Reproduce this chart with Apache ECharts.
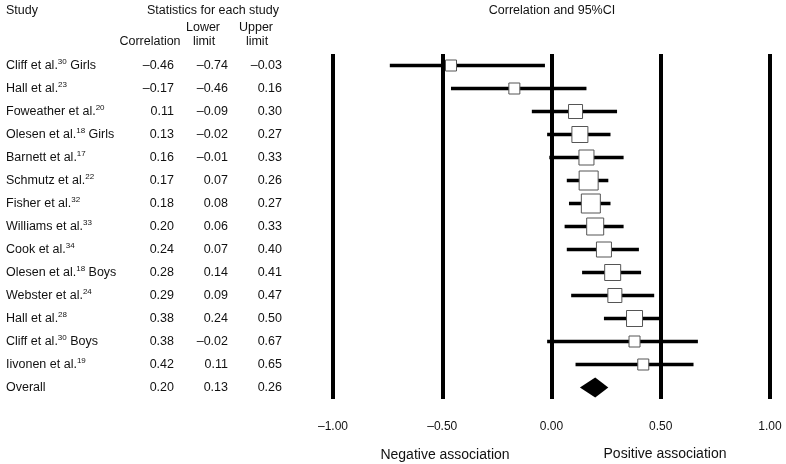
<!DOCTYPE html>
<html>
<head>
<meta charset="utf-8">
<script src="https://cdn.jsdelivr.net/npm/echarts@6/dist/echarts.min.js"></script>
<style>html,body{margin:0;padding:0;background:#fff}#c{width:786px;height:464px}</style>
</head>
<body>
<div id="c"></div>
<script>
// ---- data ----
var studyNames = ['Cliff et al.', 'Hall et al.', 'Foweather et al.', 'Olesen et al.', 'Barnett et al.', 'Schmutz et al.', 'Fisher et al.', 'Williams et al.', 'Cook et al.', 'Olesen et al.', 'Webster et al.', 'Hall et al.', 'Cliff et al.', 'Iivonen et al.', 'Overall'];
var studyRefs = ['30', '23', '20', '18', '17', '22', '32', '33', '34', '18', '24', '28', '30', '19', ''];
var studySuffix = [' Girls', '', '', ' Girls', '', '', '', '', '', ' Boys', '', '', ' Boys', '', ''];
var correlation = [-0.46, -0.17, 0.11, 0.13, 0.16, 0.17, 0.18, 0.20, 0.24, 0.28, 0.29, 0.38, 0.38, 0.42, 0.20];
var lowerLimit = [-0.74, -0.46, -0.09, -0.02, -0.01, 0.07, 0.08, 0.06, 0.07, 0.14, 0.09, 0.24, -0.02, 0.11, 0.13];
var upperLimit = [-0.03, 0.16, 0.30, 0.27, 0.33, 0.26, 0.27, 0.33, 0.40, 0.41, 0.47, 0.50, 0.67, 0.65, 0.26];
// relative weight of each study
var relWeight = [11, 11, 14, 16, 15, 19, 19, 17, 15, 16, 14, 16, 11, 11, 0];
var xTicks = [-1.00, -0.50, 0.00, 0.50, 1.00];

var FONT = '"Liberation Sans", Arial, sans-serif';
function fmt(v) { return v.toFixed(2).replace('-', '\u2013'); }
var overallIdx = studyNames.length - 1;

var studyLabels = studyNames.map(function (n, i) {
  var s = '{n|' + n + '}';
  if (studyRefs[i]) s += '{s|' + studyRefs[i] + '}';
  if (studySuffix[i]) s += '{n|' + studySuffix[i] + '}';
  return s;
});

var seriesData = correlation.map(function (c, i) {
  return [i, lowerLimit[i], upperLimit[i], c, relWeight[i]];
});

var chart = echarts.init(document.getElementById('c'));
function T(x, y, text, align, size) {
  return { type: 'text', x: x, y: y, style: { text: text, fontFamily: FONT, fontSize: size || 12.5, fill: '#111', align: align || 'center', verticalAlign: 'middle' } };
}
function numAxis(arr, offset) {
  return {
    type: 'category', inverse: true, position: 'left', offset: offset,
    data: arr.map(fmt),
    axisLine: { show: false }, axisTick: { show: false }, splitLine: { show: false },
    axisLabel: { margin: 0, align: 'right', fontFamily: FONT, fontSize: 12.5, color: '#111' }
  };
}

chart.setOption({
  animation: false,
  backgroundColor: '#fff',
  grid: { left: 333, right: 16, top: 54, bottom: 65, containLabel: false },
  xAxis: {
    type: 'value', min: -1, max: 1, interval: 0.5,
    axisLine: { show: false }, axisTick: { show: false },
    splitLine: { show: true, lineStyle: { color: '#000', width: 4 } },
    axisLabel: { margin: 22, fontFamily: FONT, fontSize: 12, color: '#111',
      formatter: function (v) { var k = xTicks.indexOf(v); return k >= 0 ? fmt(xTicks[k]) : ''; } }
  },
  yAxis: [
    {
      type: 'category', inverse: true, data: studyLabels,
      axisLine: { show: false }, axisTick: { show: false }, splitLine: { show: false },
      axisLabel: {
        margin: 327, align: 'left', color: '#111',
        rich: {
          n: { fontFamily: FONT, fontSize: 12.5, color: '#111', lineHeight: 16 },
          s: { fontFamily: FONT, fontSize: 8, color: '#111', lineHeight: 8, padding: [0, 0, 8, 0] }
        }
      }
    },
    numAxis(correlation, 159),
    numAxis(lowerLimit, 105),
    numAxis(upperLimit, 51)
  ],
  series: [{
    type: 'custom',
    xAxisIndex: 0, yAxisIndex: 0,
    data: seriesData,
    renderItem: function (params, api) {
      var i = api.value(0);
      var pL = api.coord([api.value(1), i]);
      var pU = api.coord([api.value(2), i]);
      var pC = api.coord([api.value(3), i]);
      if (i === overallIdx) {
        var h = 10;
        return { type: 'polygon', shape: { points: [[pL[0], pC[1]], [pC[0], pC[1] - h], [pU[0], pC[1]], [pC[0], pC[1] + h]] }, style: { fill: '#000' } };
      }
      var s = api.value(4);
      return {
        type: 'group',
        children: [
          { type: 'line', shape: { x1: pL[0], y1: pL[1], x2: pU[0], y2: pU[1] }, style: { stroke: '#000', lineWidth: 3.5 } },
          { type: 'rect', shape: { x: pC[0] - s / 2, y: pC[1] - s / 2, width: s, height: s }, style: { fill: '#fff', stroke: '#555', lineWidth: 1 } }
        ]
      };
    }
  }],
  graphic: [
    T(6, 11, 'Study', 'left'),
    T(213, 11, 'Statistics for each study'),
    T(150, 42, 'Correlation'),
    T(203, 28, 'Lower'),
    T(204, 42, 'limit'),
    T(256, 28, 'Upper'),
    T(257, 42, 'limit'),
    T(552, 11, 'Correlation and 95%CI'),
    T(445, 455, 'Negative association', 'center', 14),
    T(665, 454, 'Positive association', 'center', 14)
  ]
});
</script>
</body>
</html>
